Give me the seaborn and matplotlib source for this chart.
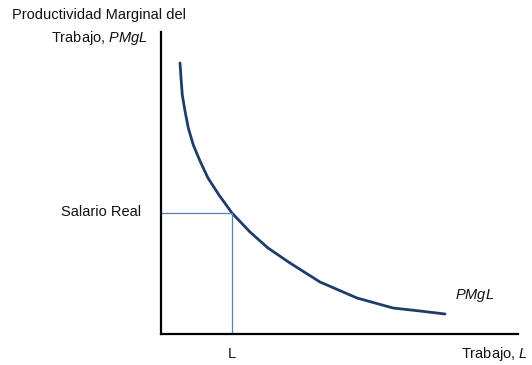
import matplotlib
matplotlib.use("Agg")
import matplotlib.pyplot as plt
import seaborn as sns
import pandas as pd

# Data (arbitrary units)
trabajo = [19, 20, 21.3, 24, 27.3, 32.3, 39, 47, 58, 71, 89, 107, 129, 159, 196, 232, 259, 284]
pmgl = [271, 256, 239, 223, 206, 189, 173, 156, 139, 121, 102, 86, 71, 52, 36, 26, 23, 20]
salario_real = 121
L_star = 71

sns.set_theme(style="white")
plt.rcParams['font.family'] = ['Liberation Sans', 'DejaVu Sans']
plt.rcParams['mathtext.fontset'] = 'custom'
plt.rcParams['mathtext.rm'] = 'Liberation Sans'
plt.rcParams['mathtext.it'] = 'Liberation Sans:italic'
plt.rcParams['text.color'] = '#111111'

W, H = 532, 365
fig = plt.figure(figsize=(W / 100, H / 100), dpi=100)
ax = fig.add_axes([161 / W, 1 - 334 / H, (518 - 161) / W, (334 - 32) / H])

df = pd.DataFrame({"L": trabajo, "PMgL": pmgl})
sns.lineplot(data=df, x="L", y="PMgL", ax=ax, color="#1f3d6b", linewidth=2.0,
             sort=False, estimator=None)
ax.lines[-1].set_solid_joinstyle("round")

ax.plot([0, L_star], [salario_real, salario_real], color="#5a7fb5", linewidth=0.9)
ax.plot([L_star, L_star], [0, salario_real], color="#5a7fb5", linewidth=0.9)

ax.set_xlim(0, 357)
ax.set_ylim(0, 302)
ax.set_xticks([])
ax.set_yticks([])
ax.set_xlabel("")
ax.set_ylabel("")
for s in ["top", "right"]:
    ax.spines[s].set_visible(False)
for s in ["left", "bottom"]:
    ax.spines[s].set_color("black")
    ax.spines[s].set_linewidth(1.6)

def px(x, y):
    return x / W, 1 - y / H

fs = 10.5
fig.text(*px(99, 15), "Productividad Marginal del", ha="center", va="center", fontsize=fs)
fig.text(*px(99, 38), "Trabajo, $PMgL$", ha="center", va="center", fontsize=fs)
fig.text(*px(101, 212), "Salario Real", ha="center", va="center", fontsize=fs)
fig.text(*px(232, 354), "L", ha="center", va="center", fontsize=fs)
fig.text(*px(528, 354), "Trabajo, $L$", ha="right", va="center", fontsize=fs)
fig.text(*px(475, 296), "$PMgL$", ha="center", va="center", fontsize=fs)

fig.savefig("out.png", dpi=100)
